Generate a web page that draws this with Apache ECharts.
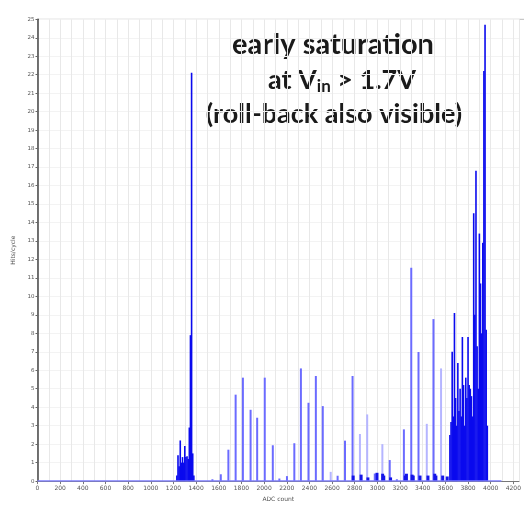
<!DOCTYPE html>
<html><head><meta charset="utf-8">
<script src="https://cdn.jsdelivr.net/npm/echarts@6/dist/echarts.min.js"></script>
<style>html,body{margin:0;padding:0;background:#fff}#c{width:524px;height:507px}</style>
</head><body><div id="c"></div>
<script>
// Isolated spikes (ADC count, hits)
const spikeX = [1542,1616,1683,1747,1811,1879,1937,2004,2075,2133,2200,2265,2323,2390,2455,2516,2647,2712,2779,2975,3107,3170,3232,3297,3361,3493];
const spikeY = [0.1,0.37,1.7,4.68,5.6,3.86,3.43,5.6,1.94,0.14,0.27,2.05,6.1,4.24,5.69,4.06,0.29,2.19,5.69,0.41,1.14,0.1,2.8,11.55,6.99,8.77];
// Fainter spikes
const faintX = [2586,2844,2908,3042,3434,3560];
const faintY = [0.5,2.55,3.61,2.0,3.1,6.1];
// Small dark bumps near baseline
const bumpX = [2780,2850,2910,2990,3040,3050,3110,3240,3250,3300,3310,3370,3440,3500,3510,3570,3610];
const bumpY = [0.3,0.35,0.2,0.45,0.4,0.3,0.2,0.3,0.4,0.35,0.3,0.3,0.3,0.4,0.3,0.3,0.25];
// Dense cluster near 1300
const clusterAX = [1230,1240,1250,1260,1270,1280,1290,1300,1310,1320,1330,1340,1350,1360,1370,1380];
const clusterAY = [0.3,1.4,0.8,2.2,1.0,1.3,1.0,1.9,1.3,1.35,1.2,2.9,7.9,22.1,1.5,0.3];
// Dense cluster near saturation
const clusterBX = [3640,3650,3660,3670,3680,3690,3700,3710,3720,3730,3740,3750,3760,3770,3780,3790,3800,3810,3820,3830,3840,3850,3860,3870,3880,3890,3900,3910,3920,3930,3940,3950,3960,3970];
const clusterBY = [2.5,3.2,7.0,3.5,9.1,4.5,3.0,6.4,3.8,5.0,3.5,7.8,5.2,3.0,5.6,4.5,7.8,5.2,5.0,4.6,3.5,14.5,9.0,16.8,7.3,5.0,13.4,10.7,8.0,12.9,22.2,24.7,8.2,3.0];
// Zero baseline extent
const baseX = [0, 4095];
// Annotation lines
const noteLines = ['early saturation', 'at V{s|in} > 1.7V', '(roll-back also visible)'];

const zip = (xs, ys) => xs.map((x, i) => [x, ys[i]]);
const titleFont = {fontSize: 27, fontWeight: 'bold', fontFamily: 'Lato', fill: '#1a1a1a', align: 'center', verticalAlign: 'middle'};

const chart = echarts.init(document.getElementById('c'), null, {renderer: 'canvas'});
chart.setOption({
  animation: false,
  backgroundColor: '#fff',
  grid: {left: 37.5, top: 19.3, right: 2, bottom: 19.3, show: false},
  xAxis: {
    type: 'value', min: 0, max: 4250, interval: 200,
    name: 'ADC count', nameLocation: 'middle', nameGap: 13,
    nameTextStyle: {fontSize: 6, color: '#555', fontFamily: 'DejaVu Sans'},
    axisLine: {show: true, onZero: false, lineStyle: {color: '#777', width: 1}},
    axisTick: {show: true, length: 3, lineStyle: {color: '#777'}},
    axisLabel: {fontSize: 6, color: '#555', margin: 4, showMaxLabel: false, fontFamily: 'DejaVu Sans', formatter: v => String(v)},
    splitLine: {show: true, lineStyle: {color: '#e8e8e8', width: 1}},
    minorTick: {show: false, splitNumber: 2},
    minorSplitLine: {show: true, lineStyle: {color: '#e8e8e8', width: 1}}
  },
  yAxis: {
    type: 'value', min: 0, max: 25, interval: 1,
    name: 'Hits/cycle', nameLocation: 'middle', nameGap: 17,
    nameTextStyle: {fontSize: 6, color: '#555', fontFamily: 'DejaVu Sans'},
    axisLine: {show: true, lineStyle: {color: '#444', width: 1.5}},
    axisTick: {show: true, length: 2, lineStyle: {color: '#666'}},
    axisLabel: {fontSize: 5.5, color: '#555', margin: 3, fontFamily: 'DejaVu Sans'},
    splitLine: {show: true, lineStyle: {color: '#f3f3f3', width: 1}}
  },
  graphic: [
    {type: 'line', shape: {x1: 37.5, y1: 19.3, x2: 524, y2: 19.3}, style: {stroke: '#bbb', lineWidth: 1}, silent: true},
    {type: 'text', x: 333, y: 45, style: Object.assign({text: noteLines[0]}, titleFont, {fontSize: 29})},
    {type: 'text', x: 342, y: 80, style: Object.assign({text: noteLines[1],
      rich: {s: {fontSize: 17, fontWeight: 'bold', fontFamily: 'Lato', fill: '#1a1a1a', padding: [14, 0, 0, 0]}}}, titleFont)},
    {type: 'text', x: 334, y: 114, style: Object.assign({text: noteLines[2]}, titleFont)}
  ],
  series: [
    {type: 'line', data: baseX.map(x => [x, 0]), symbol: 'none', lineStyle: {color: '#7d7dff', width: 1.5}, z: 3},
    {type: 'bar', data: zip(faintX, faintY), barWidth: 2, barGap: '-100%', itemStyle: {color: '#b5b5ff'}, z: 2},
    {type: 'bar', data: zip(spikeX, spikeY), barWidth: 2, barGap: '-100%', itemStyle: {color: '#6b6bff'}, z: 2},
    {type: 'bar', data: zip(bumpX, bumpY), barWidth: 3, barGap: '-100%', itemStyle: {color: '#1515e8'}, z: 3},
    {type: 'bar', data: zip(clusterAX, clusterAY), barWidth: 1.6, barGap: '-100%', itemStyle: {color: '#0a0aee'}, z: 3},
    {type: 'bar', data: zip(clusterBX, clusterBY), barWidth: 1.6, barGap: '-100%', itemStyle: {color: '#0a0aee'}, z: 3}
  ]
});
</script>
</body></html>
